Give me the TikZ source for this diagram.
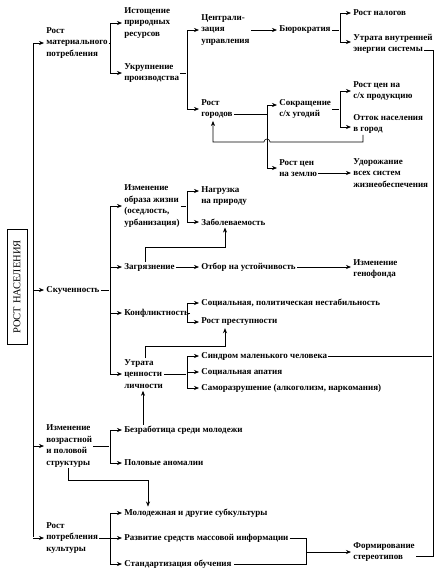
\documentclass[tikz,border=0pt]{standalone}
\usepackage{fontspec}
\setmainfont{Liberation Serif}
\usetikzlibrary{arrows.meta}
\usetikzlibrary{calc}

\begin{document}
\begin{tikzpicture}[-,>={Stealth[length=5pt,width=4pt]},shorten >=1pt,x=1pt,y=-1pt,semithick]
  \tikzstyle{lbl}=[anchor=west, align=left, inner sep=1pt, font=\fontsize{9}{11.5}\selectfont\bfseries]
  \tikzstyle{pbox}=[draw, rotate=90, minimum width=115pt, minimum height=20pt, inner sep=0pt, font=\fontsize{10.5}{12}\selectfont]
  \useasboundingbox (0,0) rectangle (439,579);
  % branch columns
  \coordinate (xa) at (110,0);
  \coordinate (xb) at (187,0);
  \coordinate (xc) at (267,0);
  \coordinate (xd) at (340,0);
  \coordinate (xs) at (306,0);
  \coordinate (xr) at (433,0);
  \coordinate (t1) at (33,43);
  \coordinate (t2) at (33,538);
  \coordinate (hop) at (267,142);
  \coordinate (top) at (423,50);

  \node[pbox] (pop) at (17,287) {РОСТ НАСЕЛЕНИЯ};

  \node[lbl] (mat)   at (45,43)   {Рост\\материального\\потребления};
  \node[lbl] (exh)   at (123,23)  {Истощение\\природных\\ресурсов};
  \node[lbl] (big)   at (123,73)  {Укрупнение\\производства};
  \node[lbl] (cen)   at (200,30)  {Централи-\\зация\\управления};
  \node[lbl] (bur)   at (278,30)  {Бюрократия};
  \node[lbl] (tax)   at (352,13)  {Рост налогов};
  \node[lbl] (loss)  at (352,44)  {Утрата внутренней\\энергии системы};
  \node[lbl] (city)  at (200,109) {Рост\\городов};
  \node[lbl] (sok)   at (278,109) {Сокращение\\с/х угодий};
  \node[lbl] (price) at (352,91)  {Рост цен на\\с/х продукцию};
  \node[lbl] (out)   at (352,124) {Отток населения\\в город};
  \node[lbl] (land)  at (278,168) {Рост цен\\на землю};
  \node[lbl] (dear)  at (352,173) {Удорожание\\всех систем\\жизнеобеспечения};

  \node[lbl] (crowd) at (45,290)  {Скученность};
  \node[lbl] (life)  at (123,206) {Изменение\\образа жизни\\(оседлость,\\урбанизация)};
  \node[lbl] (load)  at (200,196) {Нагрузка\\на природу};
  \node[lbl] (ill)   at (200,222) {Заболеваемость};
  \node[lbl] (dirt)  at (123,267) {Загрязнение};
  \node[lbl] (sel)   at (200,267) {Отбор на устойчивость};
  \node[lbl] (gen)   at (352,269) {Изменение\\генофонда};
  \node[lbl] (conf)  at (123,313) {Конфликтность};
  \node[lbl] (inst)  at (200,303) {Социальная, политическая нестабильность};
  \node[lbl] (crime) at (200,322) {Рост преступности};
  \node[lbl] (val)   at (123,374) {Утрата\\ценности\\личности};
  \node[lbl] (small) at (200,356) {Синдром маленького человека};
  \node[lbl] (apat)  at (200,372) {Социальная апатия};
  \node[lbl] (self)  at (200,388) {Саморазрушение (алкоголизм, наркомания)};

  \node[lbl] (age)   at (45,446)  {Изменение\\возрастной\\и половой\\структуры};
  \node[lbl] (job)   at (123,430) {Безработица среди молодежи};
  \node[lbl] (sex)   at (123,463) {Половые аномалии};

  \node[lbl] (cult)  at (45,538)  {Рост\\потребления\\культуры};
  \node[lbl] (youth) at (123,513) {Молодежная и другие субкультуры};
  \node[lbl] (mass)  at (123,538) {Развитие средств массовой информации};
  \node[lbl] (std)   at (123,564) {Стандартизация обучения};
  \node[lbl] (ster)  at (352,552) {Формирование\\стереотипов};

  % trunk
  \draw (t1) -- (t2);
  \draw[->] (t1) -- (mat.west);
  \draw[->] (t1 |- crowd.west) -- (crowd.west);
  \draw[->] (t1 |- age.west) -- (age.west);
  \draw[->] (t2) -- (cult.west);

  % material consumption
  \draw (mat.east) -- (mat.east -| xa);
  \draw[->] (mat.east -| xa) |- (exh.west);
  \draw[->] (mat.east -| xa) |- (big.west);
  \draw (big.east) -- (big.east -| xb);
  \draw[->] (big.east -| xb) |- (cen.west);
  \draw[->] (big.east -| xb) |- (city.west);
  \draw[->] (cen.east) -- (bur.west);
  \draw (bur.east) -- (bur.east -| xd);
  \draw[->] (bur.east -| xd) |- (tax.west);
  \draw[->] (bur.east -| xd) |- ([yshift=2pt]loss.west);
  \draw[->] ([yshift=-5pt]city.east) -- ([yshift=-5pt]city.east -| xc) |- ([yshift=4pt]sok.west);
  \draw[->] ([yshift=-5pt]city.east -| xc) |- (land.west);
  \draw (sok.east) -- (sok.east -| xd);
  \draw[->] (sok.east -| xd) |- (price.west);
  \draw[->] (sok.east -| xd) |- ([yshift=-3pt]out.west);
  \draw[->] ([xshift=11pt]out.south west) |- ([xshift=3pt]hop)
    arc[start angle=0, end angle=180, radius=3pt] -| ([xshift=13pt]city.south west);
  \draw[->] ([yshift=-5pt]land.east) -- ([yshift=-5pt]land.east -| dear.west);

  % crowding
  \draw (crowd.east) -- (crowd.east -| xa);
  \draw[->] (crowd.east -| xa) |- (life.west);
  \draw[->] (crowd.east -| xa) |- (dirt.west);
  \draw[->] (crowd.east -| xa) |- (conf.west);
  \draw[->] (crowd.east -| xa) |- (val.west);
  \draw (life.east) -- (life.east -| xb);
  \draw[->] (life.east -| xb) |- ([yshift=5pt]load.west);
  \draw[->] (life.east -| xb) |- (ill.west);
  \draw[->] (dirt) -- (sel);
  \draw[->] (sel.east) -- (sel.east -| gen.west);
  \draw[->] ([xshift=22pt]dirt.north west) -- ++(0,-14) -| ([xshift=25pt]ill.south west);
  \draw (conf.east) -- (conf.east -| xb);
  \draw[->] (conf.east -| xb) |- (inst.west);
  \draw[->] (conf.east -| xb) |- (crime.west);
  \draw[->] ([xshift=22pt]val.north west) -- ++(0,-12) -| ([xshift=25pt]crime.south west);
  \draw (val.east) -- (val.east -| xb);
  \draw[->] (val.east -| xb) |- (small.west);
  \draw[->] (val.east -| xb) |- (apat.west);
  \draw[->] (val.east -| xb) |- (self.west);
  \draw[line width=1pt] (small.east) -- (small.east -| xr);

  % age structure
  \draw (age.east) -- (age.east -| xa);
  \draw[->] (age.east -| xa) |- (job.west);
  \draw[->] (age.east -| xa) |- (sex.west);
  \draw[->] ([xshift=20pt]job.north west) -- ([xshift=20pt]job.north west |- val.south);
  \draw[->] ([xshift=23pt]age.south west) -- ++(0,12) -| ([xshift=25pt]youth.north west);

  % culture
  \draw[->] (cult.east) -- (mass.west);
  \draw[->] (cult.east -| xa) |- (youth.west);
  \draw[->] (cult.east -| xa) |- (std.west);
  \draw (mass.east) -- (mass.east -| xs) -- (std.east -| xs) -- (std.east);
  \draw[->] (xs |- ster.west) -- (ster.west);
  \draw ([yshift=-4pt]ster.east) -| (xr |- top) -- (top);
\end{tikzpicture}
\end{document}
